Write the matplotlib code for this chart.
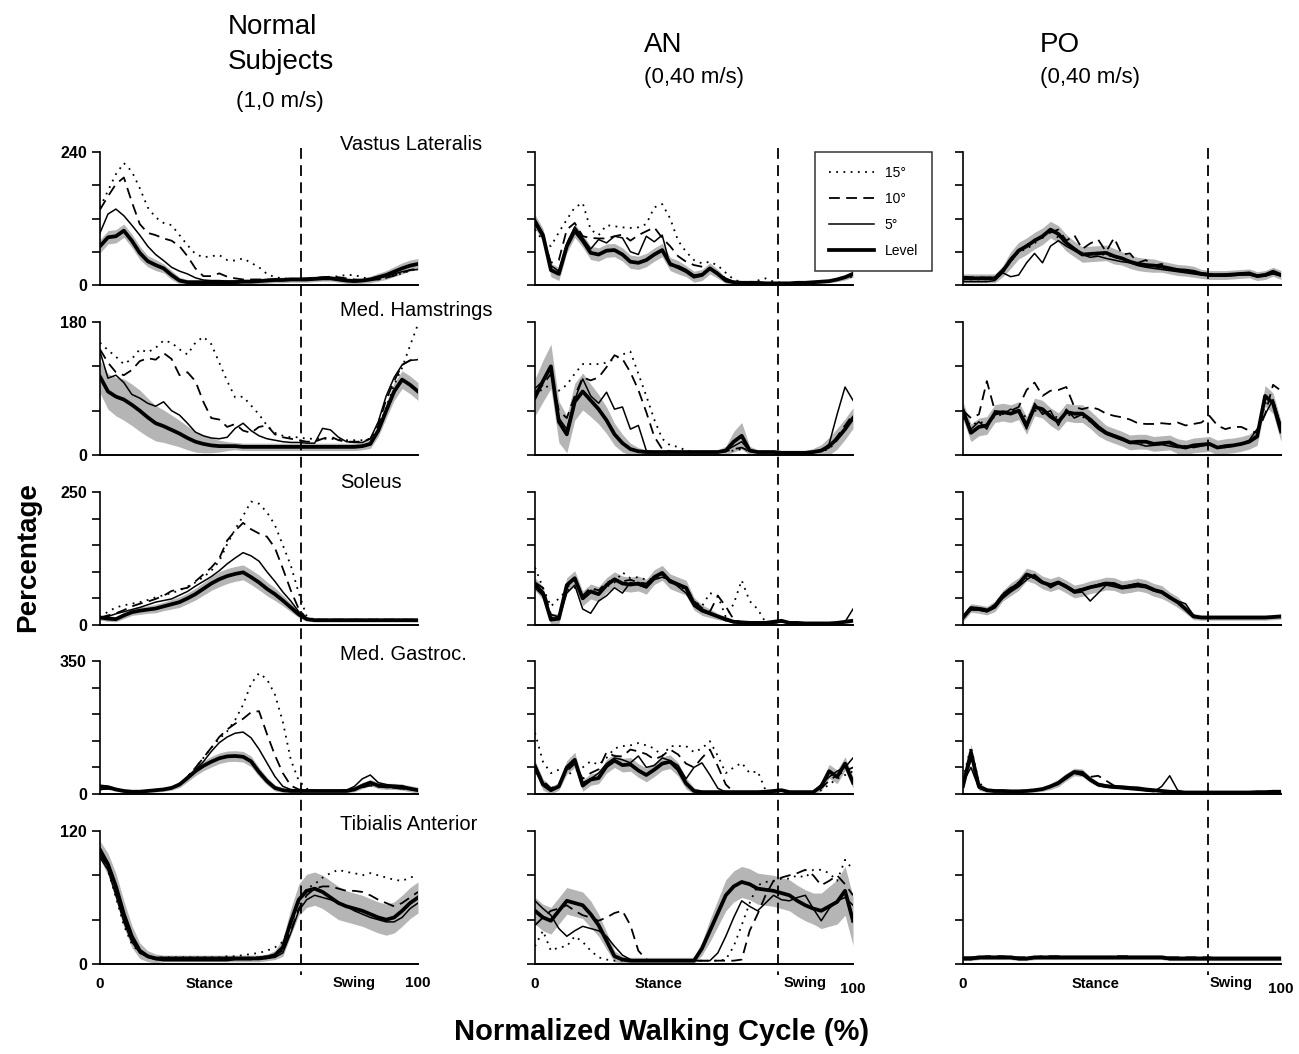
import numpy as np
import matplotlib
matplotlib.use("Agg")
import matplotlib.pyplot as plt
from matplotlib.lines import Line2D
from matplotlib.transforms import blended_transform_factory

plt.rcParams['font.family'] = ['Liberation Sans', 'DejaVu Sans']

# ---------------- data (percentage of normal EMG) ----------------
CYCLE = np.arange(0, 100.01, 2.5)          # normalized walking cycle (%)
CONDITIONS = ["15°", "10°", "5°", "Level"]
GROUPS = ["Normal", "AN", "PO"]
MUSCLES = ["Vastus Lateralis", "Med. Hamstrings", "Soleus", "Med. Gastroc.", "Tibialis Anterior"]
Y_MAX = [240, 180, 250, 350, 120]
Y_TICKS = [[0, 60, 120, 180, 240], [0, 60, 120, 180], [0, 50, 100, 150, 200, 250],
           [0, 70, 140, 210, 280, 350], [0, 40, 80, 120]]
STANCE_END = [63.2, 76.4, 77.0]             # toe-off (% cycle) per group

# ---- Normal subjects ----
VL_N_15 = [140,170,200,220,205,175,140,122,112,108, 90,72,56,50,52,54,45,44,48,40, 32,20,14,12,11,10,10,11,12,14, 16,18,18,14,10,10,13,17,21,26, 30]
VL_N_10 = [136,160,182,194,150,110,94,90,84,80, 70,52,30,16,16,21,15,12,10,10, 10,10,10,10,10,11,12,13,14,15, 14,12,10,9,9,10,13,17,22,27, 30]
VL_N_5 = [94,128,137,125,108,90,70,55,44,32, 25,20,13,9,8,8,7,7,7,7, 7,8,9,9,10,10,11,12,12,11, 10,9,8,8,9,12,16,20,24,27, 28]
VL_N_L = [70,86,88,98,80,58,43,36,30,18, 8,5,5,5,5,5,5,5,6,6, 7,8,9,9,10,10,10,11,12,12, 10,8,7,8,10,14,18,24,30,35, 38]
VL_N_SD = [12,12,12,12,12,12,10,10,8,8, 6,5,5,5,5,5,5,5,5,5, 5,5,5,5,5,5,5,5,5,5, 5,5,5,5,6,7,8,9,10,10, 10]

MH_N_15 = [152,142,133,123,130,143,139,145,155,152, 143,136,152,160,150,125,100,78,79,67, 55,40,30,26,24,24,22,22,22,22, 21,20,20,20,22,35,65,95,118,148, 177]
MH_N_10 = [143,125,112,108,115,127,131,129,138,130, 108,112,100,72,50,48,38,42,33,30, 38,40,28,24,22,20,18,18,22,25, 20,18,18,18,22,40,75,100,122,128, 131]
MH_N_5 = [140,104,108,98,82,77,70,66,72,60, 54,43,31,26,23,22,24,36,43,33, 26,22,20,18,17,17,16,16,36,34, 24,18,17,17,22,45,80,105,122,128, 129]
MH_N_L = [106,86,79,75,68,60,51,43,39,34, 29,23,18,15,13,12,12,12,11,11, 11,11,11,11,11,11,11,11,11,11, 11,11,11,12,15,33,60,86,102,95, 86]
MH_N_SD = [22,24,26,28,28,28,26,24,22,20, 18,16,14,12,10,8,6,5,5,5, 5,5,5,5,5,5,5,5,5,5, 5,5,5,5,6,8,10,12,12,12, 12]

SOL_N_15 = [14,25,33,37,40,43,47,52,56,60, 65,72,80,90,102,120,152,180,205,232, 228,212,188,150,112,60,16,10,10,10, 10,10,10,10,10,10,10,10,10,10, 10]
SOL_N_10 = [14,18,22,28,35,40,44,49,55,64, 67,70,82,95,108,125,159,177,192,180, 172,166,145,106,65,30,12,10,10,10, 10,10,10,10,10,10,10,10,10,10, 10]
SOL_N_5 = [14,16,21,25,29,33,38,43,46,49, 56,63,73,82,91,102,115,126,136,130, 120,100,82,62,45,25,12,10,10,10, 10,10,10,10,10,10,10,10,10,10, 10]
SOL_N_L = [14,12,11,18,24,27,29,31,35,39, 43,50,58,68,78,86,92,96,99,90, 80,68,58,46,33,20,11,9,9,9, 9,9,9,9,9,9,9,9,9,9, 9]
SOL_N_SD = [5,5,5,6,6,7,7,8,8,9, 10,10,11,12,13,14,14,14,14,14, 14,13,12,10,8,6,4,3,3,3, 3,3,3,3,3,3,3,3,3,3, 3]

MG_N_15 = [12,14,12,8,6,6,8,10,12,16, 25,45,69,95,122,145,165,195,235,290, 318,302,262,190,90,35,14,10,8,8, 8,10,14,18,22,20,18,16,14,12, 10]
MG_N_10 = [12,14,12,8,6,6,8,10,12,16, 25,45,69,95,122,150,170,185,198,215, 218,158,102,55,22,12,10,8,8,8, 8,10,14,18,22,20,18,16,14,12, 10]
MG_N_5 = [12,14,12,8,6,6,8,10,12,16, 25,42,64,85,112,135,150,160,163,148, 118,82,46,20,12,10,9,8,8,8, 8,10,20,40,50,30,25,22,22,15, 10]
MG_N_L = [20,18,12,8,6,6,8,10,12,16, 25,42,60,74,85,94,99,100,98,86, 58,34,16,10,8,8,8,8,8,8, 8,8,12,22,30,22,20,20,18,14, 10]
MG_N_SD = [6,6,5,4,4,4,4,5,5,6, 8,10,12,13,14,14,14,14,14,14, 12,10,8,6,5,5,5,5,5,5, 5,5,6,8,8,8,8,8,8,8, 8]

TA_N_15 = [100,85,60,35,18,10,7,6,6,6, 6,6,6,6,6,6,7,7,8,9, 10,12,15,20,35,55,68,72,78,82, 85,83,82,80,82,80,78,76,75,78, 80]
TA_N_10 = [98,88,65,40,22,12,7,5,4,4, 4,4,4,4,4,4,4,5,5,6, 6,7,8,12,30,50,62,68,70,70, 68,66,66,65,62,58,55,52,55,60, 65]
TA_N_5 = [96,85,62,38,20,10,6,4,3,3, 3,3,3,3,3,3,3,4,4,4, 5,5,6,10,28,48,58,62,60,58, 55,52,48,45,42,40,38,38,42,50, 55]
TA_N_L = [103,90,70,45,25,12,7,5,5,5, 5,5,5,5,5,5,5,5,5,5, 5,6,8,15,38,58,66,68,65,60, 55,52,50,48,45,42,40,42,48,55, 60]
TA_N_SD = [8,10,12,12,10,7,5,4,3,3, 3,3,3,3,3,3,3,3,3,3, 3,3,4,8,12,14,15,15,15,15, 15,14,14,14,14,14,14,14,14,14, 14]

# ---- AN patients ----
VL_A_15 = [100,80,70,95,118,140,148,100,90,108, 106,104,103,104,110,140,146,120,80,60, 45,39,42,35,22,10,5,5,8,12, 6,4,3,4,4,5,6,7,10,13, 15]
VL_A_10 = [112,88,40,45,100,112,88,85,84,84, 88,91,80,90,97,104,85,70,52,42, 36,33,30,22,12,6,4,4,4,3, 3,3,3,4,4,5,6,7,10,14, 18]
VL_A_5 = [110,85,35,25,75,105,85,65,82,76, 88,85,60,55,88,78,90,35,35,28, 18,20,28,22,10,5,4,4,4,3, 3,3,3,4,4,5,6,7,10,14, 20]
VL_A_L = [115,90,27,20,70,98,80,58,55,62, 63,55,42,40,45,55,63,38,32,25, 15,18,30,20,8,5,4,4,4,3, 3,3,3,4,4,5,6,7,10,14, 20]
VL_A_SD = [12,12,12,12,12,12,12,12,12,12, 12,12,12,12,12,12,12,12,12,10, 10,10,10,8,5,3,3,3,3,3, 3,3,3,3,3,3,3,3,4,5, 6]

MH_A_15 = [80,90,95,87,95,110,123,123,123,125, 130,136,140,110,80,48,22,13,11,6, 4,4,4,4,5,6,8,5,4,4, 4,4,4,4,4,4,5,8,20,35, 50]
MH_A_10 = [85,95,110,60,50,80,105,101,105,119, 135,130,112,88,58,25,8,5,4,4, 4,4,4,4,5,8,10,5,4,4, 4,4,4,4,4,4,5,10,25,40, 55]
MH_A_5 = [90,100,118,50,35,75,103,80,70,85, 62,65,35,40,6,4,4,4,4,4, 4,4,4,4,6,12,18,5,4,4, 4,4,4,4,4,4,5,15,55,92, 74]
MH_A_L = [78,100,120,45,28,72,86,74,62,47, 28,16,8,5,4,4,4,4,4,4, 4,4,4,4,6,18,26,6,4,4, 4,3,3,3,3,4,6,12,22,35, 50]
MH_A_SD = [25,28,30,28,25,25,25,22,20,18, 15,12,8,5,3,3,3,3,3,3, 3,3,3,3,6,14,18,6,3,3, 3,3,3,3,3,5,8,12,14,14, 14]

SOL_A_15 = [108,70,35,50,65,70,60,65,68,72, 80,99,88,90,85,88,92,80,75,65, 45,35,60,55,15,40,84,45,30,5, 4,6,4,4,3,3,3,3,4,6, 8]
SOL_A_10 = [80,70,20,15,70,85,55,70,65,80, 85,82,85,80,78,92,95,85,78,72, 45,32,25,55,35,10,5,4,4,4, 4,6,4,4,3,3,3,3,4,6, 10]
SOL_A_5 = [70,55,15,10,60,75,30,22,45,55, 70,60,80,75,70,85,90,85,72,60, 35,25,20,15,8,5,4,4,4,4, 4,6,4,4,3,3,3,3,4,6, 30]
SOL_A_L = [77,60,10,12,75,88,50,63,58,75, 86,78,76,78,72,90,98,82,76,70, 40,28,22,16,11,6,5,4,4,4, 6,8,4,4,3,3,3,3,4,6, 8]
SOL_A_SD = [12,12,10,10,14,14,14,14,14,14, 14,14,14,14,14,14,14,14,14,14, 12,10,8,6,4,3,3,3,3,3, 3,3,3,3,3,3,3,3,3,3, 3]

MG_A_15 = [161,85,55,64,50,60,70,86,77,95, 120,126,128,134,128,120,100,126,126,126, 110,120,139,100,55,70,82,55,60,10, 6,8,5,5,5,5,10,25,40,50, 60]
MG_A_10 = [65,35,15,25,60,80,40,55,65,110, 100,99,117,112,105,91,100,117,104,80, 70,95,117,73,25,5,5,5,5,5, 6,8,5,5,5,5,15,35,50,60, 70]
MG_A_5 = [60,30,12,18,65,85,30,40,55,80, 95,90,82,100,70,75,95,88,75,40, 70,82,50,15,5,5,5,5,5,5, 6,8,5,5,5,5,25,45,60,70, 95]
MG_A_L = [73,25,10,20,70,90,22,38,42,73, 88,76,78,62,50,64,80,85,65,28, 8,5,5,5,5,5,5,5,5,6, 8,10,5,5,5,5,20,60,45,80, 30]
MG_A_SD = [15,15,10,10,18,20,15,15,15,18, 18,18,18,18,18,18,18,18,18,15, 8,5,4,3,3,3,3,3,3,3, 3,4,3,3,3,5,12,18,18,18, 15]

TA_A_15 = [16,30,12,15,16,25,20,12,6,4, 3,3,3,3,3,3,3,3,3,3, 3,3,3,3,4,16,35,55,71,74, 75,77,77,80,78,85,85,82,75,94, 85]
TA_A_10 = [35,42,48,50,53,48,44,42,39,42, 46,48,35,12,4,3,3,3,3,3, 3,3,3,3,3,3,4,30,45,62, 75,78,80,82,85,80,71,75,80,72, 62]
TA_A_5 = [57,50,44,32,25,30,34,32,30,25, 16,8,4,3,3,3,3,3,3,3, 3,3,3,10,25,42,57,52,48,55, 62,58,57,60,62,50,39,50,57,60, 53]
TA_A_L = [48,42,39,48,57,55,53,45,35,21, 7,4,3,3,3,3,3,3,3,3, 3,14,30,46,62,70,74,72,68,67, 66,64,62,57,53,50,48,52,56,66, 39]
TA_A_SD = [12,12,12,12,12,12,12,12,10,8, 5,3,3,3,3,3,3,3,3,3, 3,6,10,12,14,14,14,14,14,14, 14,14,14,14,14,14,16,18,20,22, 22]

# ---- PO patients ----
VL_P_15 = [10,10,10,10,11,22,42,60,65,75, 90,98,85,75,66,58,54,55,55,50, 46,42,38,35,33,31,28,26,25,23, 20,18,17,17,18,19,19,16,17,21, 17]
VL_P_10 = [15,14,14,13,14,28,48,62,72,82, 85,95,100,80,90,65,75,82,60,85, 55,57,40,45,35,38,30,28,26,25, 22,20,19,19,20,21,20,18,19,22, 18]
VL_P_5 = [6,6,6,6,8,22,15,18,40,57, 40,70,80,70,62,55,50,52,48,45, 42,40,35,32,30,28,26,24,22,20, 18,17,16,16,17,18,18,15,16,20, 16]
VL_P_L = [12,12,12,12,12,25,45,62,70,80, 88,100,92,76,65,55,56,57,58,52, 48,42,38,36,35,33,30,27,26,24, 20,18,18,18,19,20,21,16,18,24, 18]
VL_P_SD = [8,8,8,8,8,10,15,15,15,15, 15,15,15,15,14,14,14,14,14,14, 12,12,12,12,12,10,10,10,10,10, 8,8,8,8,8,8,8,8,8,8, 8]

MH_P_15 = [50,40,45,42,52,55,60,62,50,60, 58,55,50,55,52,52,45,36,30,25, 21,18,17,16,15,15,14,12,12,12, 13,14,12,12,13,15,18,28,70,72, 38]
MH_P_10 = [60,50,55,100,60,58,60,65,88,98, 80,87,88,92,65,62,65,62,56,53, 51,48,43,42,42,43,42,44,40,42, 44,53,40,35,38,38,33,30,55,95, 87]
MH_P_5 = [55,35,45,35,60,55,62,58,35,70, 55,60,40,62,50,55,45,35,28,24, 20,16,15,12,13,14,12,10,12,10, 12,14,10,10,12,15,20,35,55,75, 40]
MH_P_L = [60,30,38,40,56,58,56,60,40,65, 62,52,45,58,56,56,48,38,30,26, 22,17,18,18,15,16,17,12,10,13, 14,15,10,12,13,15,18,25,80,70, 32]
MH_P_SD = [12,12,12,12,12,12,12,12,12,12, 12,12,12,12,12,12,12,12,10,10, 10,10,10,10,10,10,10,10,10,10, 10,10,10,10,10,10,10,12,14,14, 14]

SOL_P_15 = [13,30,29,26,34,53,65,75,88,88, 79,76,79,71,62,65,70,73,77,76, 70,72,75,72,65,61,51,42,30,16, 14,14,14,14,14,14,14,14,14,15, 16]
SOL_P_10 = [16,34,32,30,38,58,70,80,90,88, 78,74,82,74,65,68,72,76,80,78, 72,75,78,74,68,63,54,44,32,18, 15,15,15,15,15,15,15,15,15,16, 17]
SOL_P_5 = [12,28,28,25,32,50,62,72,85,95, 82,70,78,70,60,62,45,60,75,72, 68,70,72,70,64,60,50,45,40,18, 14,14,14,14,14,14,14,14,14,15, 16]
SOL_P_L = [14,32,30,27,35,55,67,77,95,90, 80,75,80,72,63,66,71,74,78,77, 71,73,76,73,66,62,52,43,30,16, 14,14,14,14,14,14,14,14,14,15, 16]
SOL_P_SD = [8,8,8,8,10,10,12,12,12,12, 12,12,12,12,12,12,12,12,12,12, 12,12,12,12,12,12,10,10,8,6, 5,5,5,5,5,5,5,5,5,5, 5]

MG_P_15 = [40,125,30,12,8,8,7,7,8,10, 12,18,26,42,56,54,36,24,20,18, 17,15,14,11,9,7,6,5,4,4, 4,4,4,4,4,4,4,5,5,6, 6]
MG_P_10 = [25,90,18,9,7,7,7,7,8,10, 13,20,28,42,55,50,45,48,35,22, 18,15,12,10,8,7,6,5,4,4, 4,4,4,4,4,4,4,5,5,6, 6]
MG_P_5 = [30,70,15,8,6,6,6,6,7,9, 12,18,26,40,55,50,35,22,18,16, 14,12,10,8,6,20,48,10,4,4, 4,4,4,4,4,4,4,5,5,6, 6]
MG_P_L = [21,110,20,10,8,8,7,7,8,10, 13,20,29,45,58,56,38,25,21,19, 18,16,15,12,10,8,6,5,4,4, 4,4,4,4,4,4,4,5,5,6, 6]
MG_P_SD = [10,20,10,6,5,5,5,5,5,5, 6,8,10,10,10,10,8,6,5,5, 5,5,4,4,4,3,3,3,3,3, 3,3,3,3,3,3,3,3,3,3, 3]

TA_P_15 = [5,5,5,6,6,6,6,5,5,5, 6,6,6,6,6,6,6,6,6,6, 6,6,6,6,6,6,5,5,5,5, 5,5,5,5,5,5,5,5,5,5, 5]
TA_P_10 = [6,6,6,7,7,7,6,6,6,6, 7,7,7,6,6,6,6,6,6,7, 7,7,6,6,6,6,6,6,6,6, 6,6,5,5,5,5,5,5,5,5, 5]
TA_P_5 = [4,4,5,5,5,5,5,4,4,5, 5,5,5,5,5,5,5,5,5,5, 5,5,5,5,5,5,4,4,4,4, 4,4,4,4,4,4,4,4,4,4, 4]
TA_P_L = [5,5,6,6,6,6,6,5,5,6, 6,6,6,6,6,6,6,6,6,6, 6,6,6,6,6,6,5,5,5,5, 5,5,5,5,5,5,5,5,5,5, 5]
TA_P_SD = [2,2,2,2,2,2,2,2,2,2, 2,2,2,2,2,2,2,2,2,2, 2,2,2,2,2,2,2,2,2,2, 2,2,2,2,2,2,2,2,2,2, 2]

# panel table: [muscle][group] -> (15, 10, 5, level, sd)
PANELS = [
    [(VL_N_15, VL_N_10, VL_N_5, VL_N_L, VL_N_SD), (VL_A_15, VL_A_10, VL_A_5, VL_A_L, VL_A_SD), (VL_P_15, VL_P_10, VL_P_5, VL_P_L, VL_P_SD)],
    [(MH_N_15, MH_N_10, MH_N_5, MH_N_L, MH_N_SD), (MH_A_15, MH_A_10, MH_A_5, MH_A_L, MH_A_SD), (MH_P_15, MH_P_10, MH_P_5, MH_P_L, MH_P_SD)],
    [(SOL_N_15, SOL_N_10, SOL_N_5, SOL_N_L, SOL_N_SD), (SOL_A_15, SOL_A_10, SOL_A_5, SOL_A_L, SOL_A_SD), (SOL_P_15, SOL_P_10, SOL_P_5, SOL_P_L, SOL_P_SD)],
    [(MG_N_15, MG_N_10, MG_N_5, MG_N_L, MG_N_SD), (MG_A_15, MG_A_10, MG_A_5, MG_A_L, MG_A_SD), (MG_P_15, MG_P_10, MG_P_5, MG_P_L, MG_P_SD)],
    [(TA_N_15, TA_N_10, TA_N_5, TA_N_L, TA_N_SD), (TA_A_15, TA_A_10, TA_A_5, TA_A_L, TA_A_SD), (TA_P_15, TA_P_10, TA_P_5, TA_P_L, TA_P_SD)],
]

# ---------------- styling / layout ----------------
W, H = 1299, 1054
fig = plt.figure(figsize=(W / 100, H / 100), dpi=100)

COL_LEFT = [100, 535, 963]
AX_W = 318
ROW_TOP = [152, 322, 492, 661, 831]
AX_H = 133

STYLES = [
    dict(color='black', lw=1.3, ls=(0, (1, 3))),
    dict(color='black', lw=1.3, ls=(0, (6, 3.5))),
    dict(color='black', lw=1.1, ls='-'),
    dict(color='black', lw=2.7, ls='-'),
]
BAND_COLOR = '#a8a8a8'

axes = [[None] * 3 for _ in range(5)]
for r in range(5):
    for c in range(3):
        ax = fig.add_axes([COL_LEFT[c] / W, 1 - (ROW_TOP[r] + AX_H) / H, AX_W / W, AX_H / H])
        axes[r][c] = ax
        s15, s10, s5, lev, sd = PANELS[r][c]
        lev_a = np.array(lev, float)
        sd_a = np.array(sd, float)
        ax.fill_between(CYCLE, np.clip(lev_a - sd_a, 0, None), lev_a + sd_a,
                        color=BAND_COLOR, lw=0, alpha=0.85, zorder=1)
        for series, st in zip((s15, s10, s5, lev), STYLES):
            ax.plot(CYCLE, series, color=st['color'], lw=st['lw'], ls=st['ls'], zorder=3,
                    solid_joinstyle='round')
        ax.set_xlim(0, 100)
        ax.set_ylim(0, Y_MAX[r])
        for sp in ('top', 'right'):
            ax.spines[sp].set_visible(False)
        ax.spines['left'].set_linewidth(1.2)
        ax.spines['bottom'].set_linewidth(1.4)
        ax.set_xticks([])
        ax.set_yticks(Y_TICKS[r])
        ax.tick_params(axis='y', direction='out', length=6, width=1.2, labelsize=11.5)
        if c == 0:
            labels = ['' for _ in Y_TICKS[r]]
            labels[0] = str(Y_TICKS[r][0])
            labels[-1] = str(Y_TICKS[r][-1])
            ax.set_yticklabels(labels, fontweight='bold')
        else:
            ax.set_yticklabels([])
        ax.patch.set_alpha(0)

# stance / swing boundary dashed lines spanning all rows
for c in range(3):
    tr = blended_transform_factory(axes[0][c].transData, fig.transFigure)
    fig.add_artist(Line2D([STANCE_END[c], STANCE_END[c]], [1 - 148 / H, 1 - 975 / H],
                          transform=tr, color='black', lw=1.3, ls=(0, (6, 3.5)), zorder=5))

# muscle labels
LABEL_Y = [145, 311, 483, 654, 825]
for r in range(5):
    fig.text(340 / W, 1 - LABEL_Y[r] / H, MUSCLES[r], fontsize=14.5, ha='left', va='center')

# legend
handles = [Line2D([], [], color=st['color'], lw=st['lw'], ls=st['ls']) for st in STYLES]
leg = axes[0][1].legend(handles, CONDITIONS, loc='upper left', bbox_to_anchor=(0.86, 1.05),
                        frameon=True, fancybox=False, edgecolor='black', fontsize=10,
                        handlelength=3.2, labelspacing=0.85, borderpad=1.0, handletextpad=0.8)
leg.get_frame().set_linewidth(1.1)

# bottom-row x annotations
STANCE_X = [34.6, 38.7, 41.7]
SWING_X = [80.0, 84.8, 84.4]
for c in range(3):
    ax = axes[4][c]
    tr = blended_transform_factory(ax.transData, fig.transFigure)
    ax.text(0, 1 - 984 / H, "0", transform=tr, ha='center', va='center', fontsize=11, fontweight='bold')
    ax.text(STANCE_X[c], 1 - 984 / H, "Stance", transform=tr, ha='center', va='center', fontsize=10.5, fontweight='bold')
    ax.text(SWING_X[c], 1 - 983 / H, "Swing", transform=tr, ha='center', va='center', fontsize=10.5, fontweight='bold')
    y100 = 983 if c == 0 else 989
    ax.text(100, 1 - y100 / H, "100", transform=tr, ha='center', va='center', fontsize=11, fontweight='bold')

# column titles
fig.text(228 / W, 1 - 27 / H, "Normal", fontsize=20, ha='left', va='center')
fig.text(228 / W, 1 - 62 / H, "Subjects", fontsize=20, ha='left', va='center')
fig.text(236 / W, 1 - 102 / H, "(1,0 m/s)", fontsize=16, ha='left', va='center')
fig.text(644 / W, 1 - 45 / H, "AN", fontsize=20, ha='left', va='center')
fig.text(644 / W, 1 - 77 / H, "(0,40 m/s)", fontsize=16, ha='left', va='center')
fig.text(1040 / W, 1 - 45 / H, "PO", fontsize=20, ha='left', va='center')
fig.text(1040 / W, 1 - 77 / H, "(0,40 m/s)", fontsize=16, ha='left', va='center')

# axis titles
fig.text(28 / W, 1 - 557 / H, "Percentage", fontsize=20, fontweight='bold', rotation=90,
         ha='center', va='center')
fig.text(662 / W, 1 - 1032 / H, "Normalized Walking Cycle (%)", fontsize=21, fontweight='bold',
         ha='center', va='center')

fig.savefig("out.png", dpi=100)
